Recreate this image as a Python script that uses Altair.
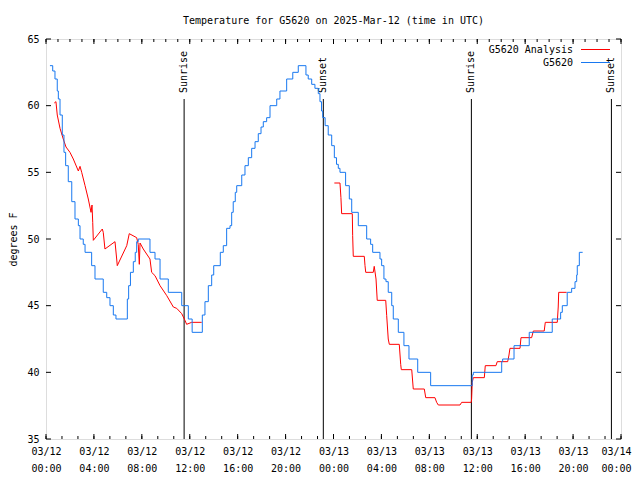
import json
import altair as alt
import pandas as pd

# ---------------- data (hours since 03/12 00:00 UTC, degrees F) ----------------
blue_hours = [0.33, 0.56, 0.75, 0.94, 1.03, 1.17, 1.36, 1.50, 1.64, 1.86, 2.15, 2.42, 2.70, 2.84, 3.11,
              3.26, 3.81, 4.09, 4.78, 5.07, 5.34, 5.62, 5.84, 6.79, 6.90, 7.05, 7.29, 7.45, 7.57, 7.70,
              8.68, 9.10, 9.52, 10.21, 11.33, 11.88, 12.20, 13.05, 13.27, 13.55, 13.83, 14.00, 14.55,
              14.80, 15.08, 15.36, 15.50, 15.63, 15.80, 15.92, 16.34, 16.61, 16.89, 17.17, 17.45, 17.72,
              17.95, 18.14, 18.42, 18.70, 19.26, 19.53, 20.09, 20.60, 21.06, 21.70, 21.89, 22.18, 22.45,
              22.73, 22.87, 23.00, 23.10, 23.30, 23.56, 23.85, 24.07, 24.25, 24.40, 24.54, 25.01, 25.32,
              25.52, 26.07, 26.77, 27.10, 27.27, 27.88, 28.02, 28.21, 28.38, 28.57, 28.86, 28.99, 29.41,
              29.88, 30.30, 31.03, 32.11, 35.58, 35.67, 38.04, 38.12, 39.07, 40.34, 42.26, 42.96, 43.10,
              43.51, 43.88, 44.16, 44.30, 44.35, 44.52, 44.80]
blue_temps = [63.0, 62.6, 62.0, 61.1, 60.5, 59.3, 57.8, 56.5, 55.5, 54.3, 52.8, 51.5, 51.0, 50.0, 49.6,
              49.0, 48.0, 47.0, 46.0, 45.6, 45.0, 44.3, 44.0, 45.5, 46.5, 47.5, 48.3, 49.0, 49.8, 50.0,
              49.0, 48.5, 47.0, 46.0, 45.0, 44.0, 43.0, 44.3, 45.3, 46.5, 47.3, 48.0, 49.0,
              49.5, 50.8, 51.0, 52.0, 52.8, 53.5, 54.0, 54.8, 55.5, 56.1, 56.8, 57.3, 57.9,
              58.4, 58.8, 59.1, 60.0, 60.5, 61.1, 62.0, 62.5, 63.0, 62.3, 62.0, 61.6, 61.3,
              60.9, 60.3, 59.6, 59.1, 58.5, 57.8, 57.0, 56.1, 55.6, 55.3, 55.0, 54.0, 53.0,
              52.0, 51.0, 50.0, 49.6, 49.0, 48.5, 48.0, 47.0, 46.8, 46.0, 45.0, 44.0, 43.0,
              42.0, 41.0, 40.0, 39.0, 39.8, 40.0, 40.8, 41.0, 42.0, 43.0, 44.0, 44.5, 45.0,
              46.0, 46.3, 46.8, 47.3, 48.0, 49.0, 49.0]

red1_hours = [0.69, 0.83, 0.94, 1.17, 1.44, 1.67, 2.00, 2.28, 2.70, 2.84, 2.98, 3.26, 3.53, 3.76, 3.84,
              3.90, 3.95, 4.70, 4.78, 4.92, 5.76, 5.90, 5.95, 6.74, 6.95, 7.57, 7.70, 7.79, 7.85, 8.12,
              8.68, 8.82, 9.10, 9.52, 10.08, 10.63, 10.91, 11.33, 11.60, 11.74, 12.16, 13.00]
red1_temps = [60.2, 60.3, 59.3, 58.3, 57.5, 56.9, 56.5, 56.0, 55.1, 55.45, 55.0, 54.0, 53.0, 52.0, 52.55,
              51.25, 49.9, 50.75, 50.5, 49.25, 49.8, 48.5, 48.0, 49.5, 50.4, 50.1, 49.6, 48.1, 49.7, 49.25,
              48.5, 47.5, 47.25, 46.5, 45.75, 44.9, 44.8, 44.4, 43.9, 43.6, 43.75, 43.75]

red2_hours = [24.07, 24.54, 24.62, 24.68, 25.57, 25.60, 25.65, 26.57, 26.63, 26.69, 27.32, 27.40, 27.55,
              27.65, 28.36, 28.44, 28.57, 28.66, 29.49, 29.61, 29.66, 30.53, 30.66, 31.58, 31.70, 32.47,
              32.61, 32.75, 34.56, 34.70, 35.50, 35.53, 35.58, 35.67, 36.59, 36.67, 37.56, 37.67, 38.54,
              38.65, 38.73, 39.57, 39.65, 40.54, 40.68, 41.59, 41.68, 42.68, 42.76, 42.80, 43.46]
red2_temps = [54.2, 54.2, 53.1, 51.9, 51.9, 50.25, 48.7, 48.7, 48.0, 47.5, 47.5, 47.95, 47.0,
              45.4, 45.4, 44.25, 42.5, 42.1, 42.1, 40.6, 40.2, 40.2, 38.75, 38.75, 38.1, 38.1,
              37.75, 37.55, 37.55, 37.75, 37.75, 38.0, 39.25, 39.6, 39.6, 40.5, 40.5, 40.8, 40.8,
              41.3, 41.8, 41.8, 42.6, 42.6, 43.1, 43.1, 43.75, 43.75, 44.9, 46.0, 46.0]

event_hours = [11.53, 23.15, 35.51, 47.20]
event_labels = ["Sunrise", "Sunset", "Sunrise", "Sunset"]

x_tick_hours = [0, 4, 8, 12, 16, 20, 24, 28, 32, 36, 40, 44, 48]
x_tick_labels = ["03/12 00:00", "03/12 04:00", "03/12 08:00", "03/12 12:00", "03/12 16:00",
                 "03/12 20:00", "03/13 00:00", "03/13 04:00", "03/13 08:00", "03/13 12:00",
                 "03/13 16:00", "03/13 20:00", "03/14 00:00"]
y_ticks = [35, 40, 45, 50, 55, 60, 65]

title_text = "Temperature for G5620 on 2025-Mar-12 (time in UTC)"
series_names = ["G5620 Analysis", "G5620"]

# ---------------- style ----------------
FONT = "DejaVu Sans Mono"
RED = "#ff0000"
BLUE = "#1878f0"
W, H = 575, 400

x_scale = alt.Scale(domain=[0, 48], nice=False, zero=False)
y_scale = alt.Scale(domain=[35, 65], nice=False, zero=False)

label_expr = "split(" + json.dumps(x_tick_labels) + "[round(datum.value / 4)], ' ')"
x_axis = alt.Axis(values=x_tick_hours, labelExpr=label_expr, grid=False, domain=False, ticks=False,
                  labelPadding=7, labelLineHeight=17, labelFlush=False, labelOverlap=False,
                  labelBaseline="top",
                  labelAlign=alt.ExprRef(expr="datum.value >= 48 ? 'right' : 'center'"),
                  labelOffset=alt.ExprRef(expr="datum.value >= 48 ? 10 : 0"),
                  title=None,
                  labelFont=FONT, labelFontSize=10, labelColor="black")
y_axis = alt.Axis(values=y_ticks, grid=False, domain=False, ticks=False, labelPadding=7,
                  labelFont=FONT, labelFontSize=10, labelColor="black",
                  title="degrees F", titleAngle=270, titleX=-33, titleY=H / 2,
                  titleBaseline="middle", titleAlign="center", titleFontWeight="normal",
                  titleFont=FONT, titleFontSize=10, titleColor="black")

X = alt.X("h:Q", scale=x_scale, axis=x_axis)
Y = alt.Y("t:Q", scale=y_scale, axis=y_axis)

blue_df = pd.DataFrame({"h": blue_hours, "t": blue_temps})
red_df = pd.concat([
    pd.DataFrame({"h": red1_hours, "t": red1_temps, "seg": 1}),
    pd.DataFrame({"h": red2_hours, "t": red2_temps, "seg": 2}),
], ignore_index=True)
red_df["i"] = range(len(red_df))
events_df = pd.DataFrame({"h": event_hours, "label": event_labels})

minor_bottom = pd.DataFrame({"h": [k * 4 / 3 for k in range(37)]})
minor_top = pd.DataFrame({"h": list(range(49))})
major_x = pd.DataFrame({"h": x_tick_hours})
yt_df = pd.DataFrame({"t": y_ticks})
one = pd.DataFrame({"a": [0]})

# sunrise / sunset markers
event_rules = alt.Chart(events_df).mark_rule(color="black", strokeWidth=1).encode(
    x=X, y=alt.value(60), y2=alt.value(H))
event_text = alt.Chart(events_df).mark_text(
    angle=270, align="left", baseline="middle", font=FONT, fontSize=10, color="black"
).encode(x=X, y=alt.value(54), text="label:N")

red_line = alt.Chart(red_df).mark_line(color=RED, strokeWidth=1).encode(
    x=X, y=Y, detail="seg:N", order="i:Q")
blue_line = alt.Chart(blue_df).mark_line(color=BLUE, strokeWidth=1, interpolate="step-after").encode(
    x=X, y=Y)

# inward ticks (gnuplot style)
tick_style = dict(color="black", strokeWidth=1)
t_bot_minor = alt.Chart(minor_bottom).mark_rule(**tick_style).encode(x=X, y=alt.value(H), y2=alt.value(H - 3))
t_bot_major = alt.Chart(major_x).mark_rule(**tick_style).encode(x=X, y=alt.value(H), y2=alt.value(H - 5))
t_top_minor = alt.Chart(minor_top).mark_rule(**tick_style).encode(x=X, y=alt.value(0), y2=alt.value(3))
t_top_major = alt.Chart(major_x).mark_rule(**tick_style).encode(x=X, y=alt.value(0), y2=alt.value(5))
t_left = alt.Chart(yt_df).mark_rule(**tick_style).encode(y=Y, x=alt.value(0), x2=alt.value(5))
t_right = alt.Chart(yt_df).mark_rule(**tick_style).encode(y=Y, x=alt.value(W), x2=alt.value(W - 5))

# title
title = alt.Chart(one).mark_text(font=FONT, fontSize=10, align="center", baseline="alphabetic",
                                 color="black").encode(
    x=alt.value(W / 2), y=alt.value(-15), text=alt.value(title_text))

# legend (gnuplot style: label then line sample)
leg_text_red = alt.Chart(one).mark_text(font=FONT, fontSize=10, align="right", baseline="middle",
                                        color="black").encode(
    x=alt.value(527), y=alt.value(10.5), text=alt.value(series_names[0]))
leg_text_blue = alt.Chart(one).mark_text(font=FONT, fontSize=10, align="right", baseline="middle",
                                         color="black").encode(
    x=alt.value(527), y=alt.value(23.5), text=alt.value(series_names[1]))
leg_line_red = alt.Chart(one).mark_rule(color=RED, strokeWidth=1).encode(
    x=alt.value(535), x2=alt.value(564), y=alt.value(10.5))
leg_line_blue = alt.Chart(one).mark_rule(color=BLUE, strokeWidth=1).encode(
    x=alt.value(535), x2=alt.value(564), y=alt.value(23.5))

chart = alt.layer(
    event_rules, event_text, red_line, blue_line,
    t_bot_minor, t_bot_major, t_top_minor, t_top_major, t_left, t_right,
    title, leg_text_red, leg_text_blue, leg_line_red, leg_line_blue,
).properties(
    width=W, height=H,
    autosize=alt.AutoSizeParams(type="none"),
    padding={"left": 38, "top": 31, "right": 11, "bottom": 41},
).configure_view(
    stroke="black", strokeWidth=1
).configure_axis(
    labelFont=FONT, labelFontSize=10, labelColor="black",
    titleFont=FONT, titleFontSize=10, titleColor="black",
).configure(background="white")

chart.save("out.html", embed_options={"renderer": "svg", "actions": False})
